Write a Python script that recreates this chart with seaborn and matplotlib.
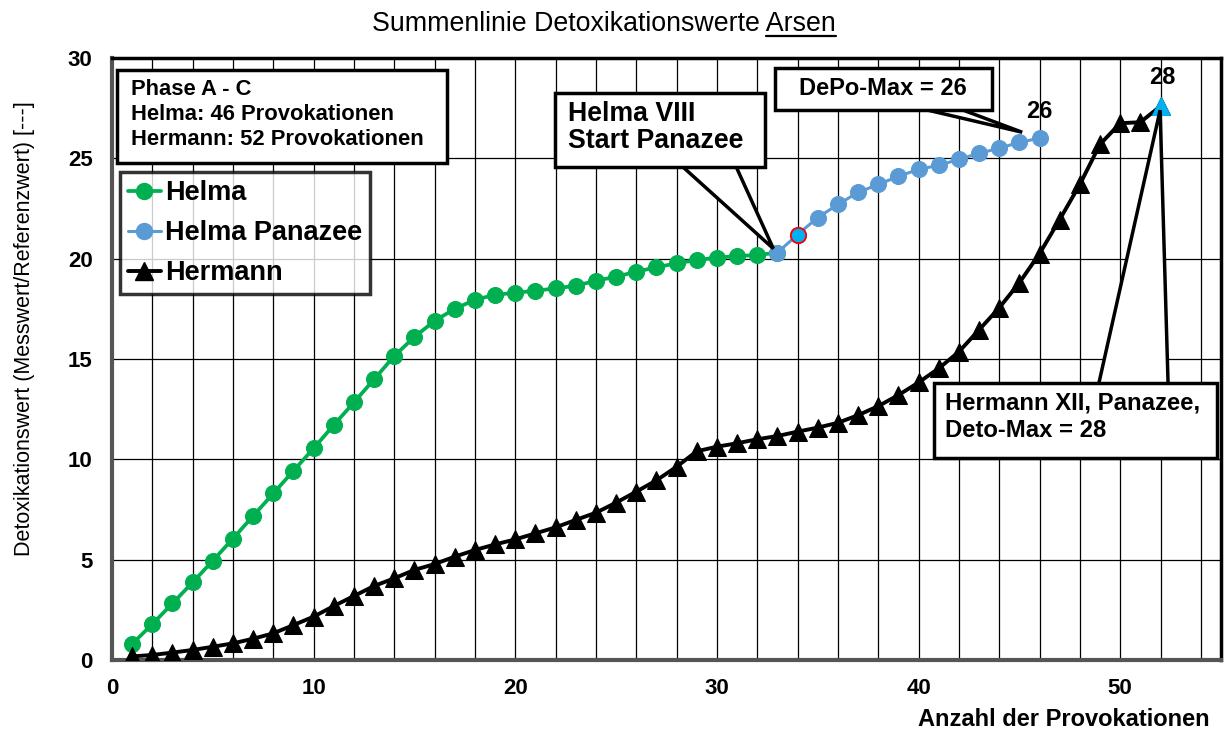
import matplotlib
matplotlib.use("Agg")
import matplotlib.pyplot as plt
from matplotlib.lines import Line2D
from matplotlib.patches import Polygon, Rectangle
from matplotlib import font_manager
import seaborn as sns
import numpy as np

# ---------------- data ----------------
helma_x = list(range(1, 34))
helma_y = [0.8, 1.79, 2.82, 3.87, 4.95, 6.05, 7.18, 8.3, 9.43, 10.55,
           11.71, 12.84, 13.99, 15.15, 16.1, 16.9, 17.5, 17.95, 18.2, 18.3,
           18.4, 18.52, 18.65, 18.9, 19.1, 19.35, 19.57, 19.77, 19.93, 20.05,
           20.13, 20.18, 20.3]

panazee_x = list(range(33, 47))
panazee_y = [20.3, 21.2, 22.05, 22.7, 23.3, 23.7, 24.1, 24.45, 24.65, 24.95,
             25.25, 25.5, 25.8, 26.0]

hermann_x = list(range(1, 53))
hermann_y = [0.18, 0.25, 0.37, 0.5, 0.66, 0.83, 1.06, 1.33, 1.74, 2.16,
             2.69, 3.19, 3.69, 4.07, 4.49, 4.78, 5.15, 5.48, 5.76, 6.01,
             6.31, 6.61, 6.98, 7.34, 7.84, 8.39, 8.95, 9.63, 10.4, 10.63,
             10.8, 11.0, 11.16, 11.38, 11.58, 11.82, 12.2, 12.65, 13.2, 13.83,
             14.53, 15.36, 16.45, 17.55, 18.8, 20.25, 21.95, 23.7, 25.7, 26.75,
             26.8, 27.6]

start_x = 34          # Panazee start point (highlighted)
yticks = [0, 5, 10, 15, 20, 25, 30]
xticks = [0, 10, 20, 30, 40, 50]
series_labels = ["Helma", "Helma Panazee", "Hermann"]

title_main = "Summenlinie Detoxikationswerte "
title_under = "Arsen"
ylabel = "Detoxikationswert (Messwert/Referenzwert) [---]"
xlabel = "Anzahl der Provokationen"
info_text = "Phase A - C\nHelma: 46 Provokationen\nHermann: 52 Provokationen"
callout_helma = "Helma VIII\nStart Panazee"
callout_depo = "DePo-Max = 26"
callout_hermann = "Hermann XII, Panazee,\nDeto-Max = 28"

# ---------------- style ----------------
sns.set_style("white")
names = {f.name for f in font_manager.fontManager.ttflist}
base_font = "Liberation Sans" if "Liberation Sans" in names else "DejaVu Sans"
plt.rcParams["font.family"] = [base_font, "DejaVu Sans"]
plt.rcParams["text.color"] = "black"
plt.rcParams["axes.labelcolor"] = "black"
plt.rcParams["xtick.color"] = "black"
plt.rcParams["ytick.color"] = "black"
plt.rcParams["legend.labelcolor"] = "black"

GREEN = "#00B050"
BLUE = "#5B9BD5"
CYAN = "#00B0F0"

fig = plt.figure(figsize=(12.25, 7.33), dpi=100)
ax = fig.add_axes([112/1225, 1-660/733, (1221-112)/1225, (660-58)/733])

# ---------------- series ----------------
sns.lineplot(x=helma_x, y=helma_y, ax=ax, color=GREEN, linewidth=2.7,
             marker="o", markersize=11.5, markeredgecolor=GREEN, zorder=4)
sns.lineplot(x=panazee_x, y=panazee_y, ax=ax, color=BLUE, linewidth=2.2,
             marker="o", markersize=11.5, markeredgecolor=BLUE, zorder=5)
sns.lineplot(x=[start_x], y=[panazee_y[panazee_x.index(start_x)]], ax=ax,
             color=CYAN, marker="o", markersize=11, markeredgecolor="red",
             markeredgewidth=1.3, linestyle="none", zorder=6)
sns.lineplot(x=hermann_x, y=hermann_y, ax=ax, color="black", linewidth=2.8,
             marker="^", markersize=12.5, markeredgecolor="black", zorder=4)
sns.lineplot(x=[hermann_x[-1]], y=[hermann_y[-1]], ax=ax, color=CYAN,
             marker="^", markersize=12.5, markeredgecolor=CYAN,
             linestyle="none", zorder=7)

# ---------------- axes ----------------
ax.set_xlim(0, 55)
ax.set_ylim(0, 30)
ax.set_xticks(xticks)
ax.set_xticks(np.arange(0, 56, 2), minor=True)
ax.set_yticks(yticks)
ax.grid(True, which="both", axis="x", color="black", linewidth=0.9, zorder=0)
ax.grid(True, which="major", axis="y", color="black", linewidth=0.9, zorder=0)
ax.set_axisbelow(True)
ax.tick_params(which="both", length=0, labelcolor="black")
ax.tick_params(axis="x", pad=13)
ax.tick_params(axis="y", pad=14)
for lab in ax.get_xticklabels() + ax.get_yticklabels():
    lab.set_fontweight("bold")
    lab.set_fontsize(16)
    lab.set_color("black")
for side in ["top", "right"]:
    ax.spines[side].set_color("black")
    ax.spines[side].set_linewidth(2.5)
for side in ["left", "bottom"]:
    ax.spines[side].set_color("#555555")
    ax.spines[side].set_linewidth(3)
ax.set_xlabel("")
ax.set_ylabel("")

# ---------------- titles ----------------
t_title = fig.text(604/1225, 1-31/733, title_main + title_under,
                   ha="center", va="baseline", fontsize=19.3, color="black")
renderer = fig.canvas.get_renderer()
bb_full = t_title.get_window_extent(renderer)
t_tmp = fig.text(0, 0, title_under, fontsize=19.3)
w_under = t_tmp.get_window_extent(renderer).width
t_tmp.remove()
ux1 = bb_full.x1 / fig.bbox.width
ux0 = (bb_full.x1 - w_under) / fig.bbox.width
uy = 1 - 36/733
fig.add_artist(Line2D([ux0, ux1], [uy, uy], color="black", lw=1.6,
                      transform=fig.transFigure))

fig.text(25/1225, 1-329/733, ylabel, rotation=90, ha="center", va="center",
         fontsize=15.5, color="black")
fig.text(1210/1225, 1-720/733, xlabel, ha="right", va="center",
         fontsize=17, fontweight="bold", color="black")

# ---------------- legend ----------------
handles = [
    Line2D([], [], color=GREEN, lw=2.7, marker="o", markersize=11.5),
    Line2D([], [], color=BLUE, lw=2.2, marker="o", markersize=11.5),
    Line2D([], [], color="black", lw=2.8, marker="^", markersize=12.5),
]
leg = ax.legend(handles, series_labels, loc="upper left",
                bbox_to_anchor=(8/1109, (660-172)/602), borderaxespad=0,
                frameon=True, fancybox=False, handlelength=1.2,
                handletextpad=0.15, labelspacing=0.52, borderpad=0.3,
                prop={"weight": "bold", "size": 19.5})
leg.get_frame().set_edgecolor("black")
leg.get_frame().set_linewidth(2.5)
for t in leg.get_texts():
    t.set_color("black")
leg.set_zorder(10)

# ---------------- info box ----------------
box_kw = dict(fc="white", ec="black", lw=2.5)
ax.add_patch(Rectangle((0.25, 24.76), 16.37, 4.64, zorder=9, **box_kw))
ax.text(0.94, 27.2, info_text, ha="left", va="center", fontsize=15.8,
        fontweight="bold", linespacing=1.24, zorder=10, color="black")

# ---------------- callouts ----------------
wedge_kw = dict(fc="white", ec="black", lw=2.5, joinstyle="miter")
# Helma VIII
ax.add_patch(Polygon([(28.17, 24.7), (30.9, 24.7), (32.8, 20.5)], closed=True,
                     zorder=8, **wedge_kw))
ax.add_patch(Rectangle((21.97, 24.56), 10.42, 3.69, zorder=9, **box_kw))
ax.text(22.6, 26.55, callout_helma, ha="left", va="center", fontsize=19.3,
        fontweight="bold", linespacing=1.07, zorder=10, color="black")
# DePo-Max
ax.add_patch(Polygon([(39.19, 27.7), (41.42, 27.7), (45.14, 26.3)], closed=True,
                     zorder=8, **wedge_kw))
ax.add_patch(Rectangle((32.89, 27.4), 10.76, 2.1, zorder=9, **box_kw))
ax.text(38.24, 28.48, callout_depo, ha="center", va="center", fontsize=17,
        fontweight="bold", zorder=10, color="black")
# Hermann XII
ax.add_patch(Polygon([(48.9, 13.6), (52.38, 13.6), (51.98, 27.4)], closed=True,
                     zorder=8, **wedge_kw))
ax.add_patch(Rectangle((40.77, 10.06), 14.04, 3.74, zorder=9, **box_kw))
ax.text(41.32, 12.12, callout_hermann, ha="left", va="center", fontsize=17.2,
        fontweight="bold", linespacing=1.2, zorder=10, color="black")

# end labels
ax.text(panazee_x[-1], panazee_y[-1] + 1.35, f"{panazee_y[-1]:.0f}", ha="center",
        va="center", fontsize=17, fontweight="bold", zorder=9, color="black")
ax.text(hermann_x[-1] + 0.1, 29.05, f"{hermann_y[-1]:.0f}", ha="center",
        va="center", fontsize=17, fontweight="bold", zorder=9, color="black")

fig.savefig("out.png", dpi=100)
